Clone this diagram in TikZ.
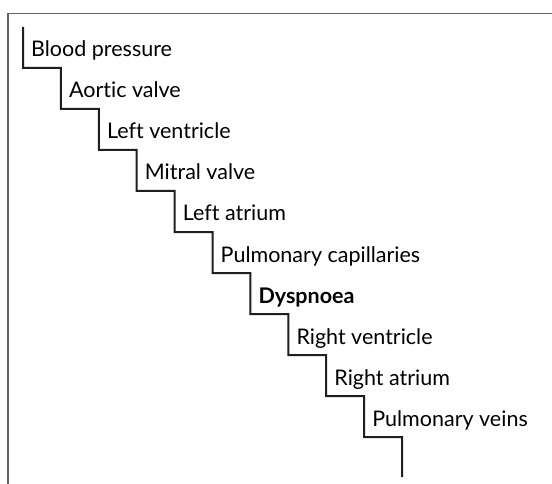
\documentclass[tikz,border=0pt]{standalone}
\usepackage{fontspec}
\setmainfont{Lato}[Ligatures=NoCommon]
\usetikzlibrary{positioning}

\begin{document}
\begin{tikzpicture}[
  x=1pt, y=-1pt,
  every node/.style={font=\fontsize{21.5}{25}\selectfont},
  stair/.style={draw=black!88,line width=2pt},
  frame/.style={draw=black!62,line width=1.8pt},
  lab/.style={anchor=base west,inner sep=0pt}
]
\useasboundingbox (0,0) rectangle (552,484);
\draw[frame] (8,484) -- (8,13.5) -- (552,13.5);

% the staircase
\coordinate (top) at (23,27);
\coordinate (foot) at (402,477);
\draw[stair] (top)
  \foreach \i in {0,...,9} { -- (23+37.9*\i,68+41*\i) -- (60.9+37.9*\i,68+41*\i) }
  -- (foot);

% one label on each step
\foreach \name/\txt [count=\i from 0] in {
    bp/Blood pressure, av/Aortic valve, lv/Left ventricle, mv/Mitral valve,
    la/Left atrium, pc/Pulmonary capillaries, dy/{\textbf{Dyspnoea}},
    rv/Right ventricle, ra/Right atrium, pv/Pulmonary veins}
  \node[lab] (\name) at (31+37.9*\i,57+41*\i) {\txt};

\end{tikzpicture}
\end{document}
